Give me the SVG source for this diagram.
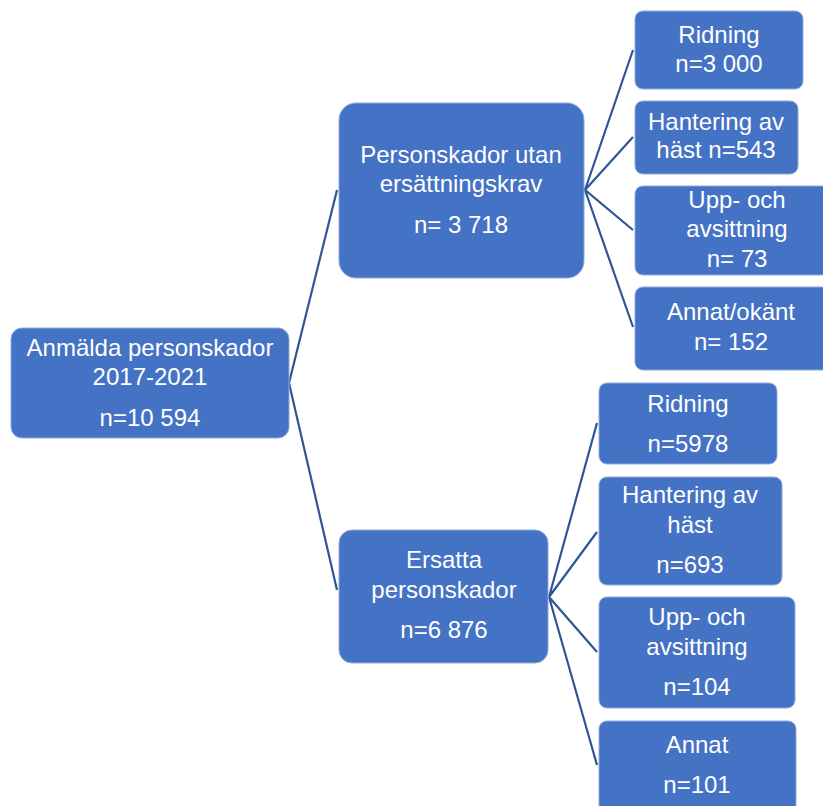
<svg xmlns="http://www.w3.org/2000/svg" width="823" height="806" viewBox="0 0 823 806">
<style>
.box{fill:#4472C4;stroke:#8FAADC;stroke-width:1}
.t{font-family:"Liberation Sans",Arial,sans-serif;font-size:24px;fill:#FFFFFF;text-anchor:middle}
.c{stroke:#2F5597;stroke-width:2.2;fill:none}
</style>
<rect width="823" height="806" fill="#FFFFFF"/>
<g id="connectors">
<polyline class="c" points="337,190 289,383 337,590"/>
<polyline class="c" points="633,50 585,190 633,137"/>
<polyline class="c" points="633,230 585,190 633,327"/>
<polyline class="c" points="597,423 549,597 597,532"/>
<polyline class="c" points="597,652 549,597 597,765"/>
</g>
<g id="root">
<rect class="box" x="11" y="328" width="278" height="110" rx="11"/>
<text class="t" x="150" y="356">Anmälda personskador</text>
<text class="t" x="150" y="385">2017-2021</text>
<text class="t" x="150" y="426">n=10 594</text>
</g>
<g id="utan">
<rect class="box" x="339" y="103" width="245" height="175" rx="17"/>
<text class="t" x="461" y="163">Personskador utan</text>
<text class="t" x="461" y="192">ersättningskrav</text>
<text class="t" x="461" y="233">n= 3 718</text>
</g>
<g id="ersatta">
<rect class="box" x="339" y="530" width="209" height="133" rx="13"/>
<text class="t" x="444" y="568">Ersatta</text>
<text class="t" x="444" y="598">personskador</text>
<text class="t" x="444" y="638">n=6 876</text>
</g>
<g id="u-ridning">
<rect class="box" x="635" y="11" width="168" height="78" rx="8"/>
<text class="t" x="719" y="43">Ridning</text>
<text class="t" x="719" y="72">n=3 000</text>
</g>
<g id="u-hantering">
<rect class="box" x="635" y="101" width="163" height="73" rx="8"/>
<text class="t" x="716" y="130">Hantering av</text>
<text class="t" x="716" y="158">häst n=543</text>
</g>
<g id="u-upp">
<rect class="box" x="635" y="186" width="195" height="89" rx="8"/>
<text class="t" x="737" y="208">Upp- och</text>
<text class="t" x="737" y="237">avsittning</text>
<text class="t" x="737" y="267">n= 73</text>
</g>
<g id="u-annat">
<rect class="box" x="635" y="287" width="195" height="83" rx="8"/>
<text class="t" x="731" y="320">Annat/okänt</text>
<text class="t" x="731" y="350">n= 152</text>
</g>
<g id="e-ridning">
<rect class="box" x="599" y="383" width="178" height="81" rx="8"/>
<text class="t" x="688" y="412">Ridning</text>
<text class="t" x="688" y="452">n=5978</text>
</g>
<g id="e-hantering">
<rect class="box" x="599" y="477" width="183" height="108" rx="8"/>
<text class="t" x="690" y="503">Hantering av</text>
<text class="t" x="690" y="533">häst</text>
<text class="t" x="690" y="573">n=693</text>
</g>
<g id="e-upp">
<rect class="box" x="599" y="597" width="196" height="111" rx="8"/>
<text class="t" x="697" y="625">Upp- och</text>
<text class="t" x="697" y="655">avsittning</text>
<text class="t" x="697" y="695">n=104</text>
</g>
<g id="e-annat">
<rect class="box" x="599" y="721" width="197" height="100" rx="8"/>
<text class="t" x="697" y="753">Annat</text>
<text class="t" x="697" y="793">n=101</text>
</g>
</svg>
